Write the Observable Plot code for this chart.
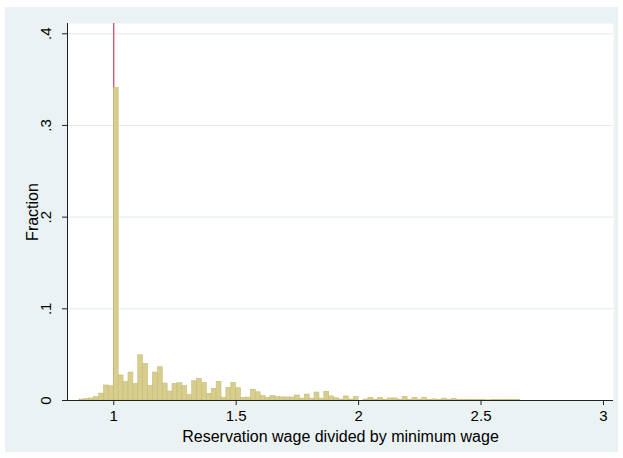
<!DOCTYPE html>
<html>
<head>
<meta charset="utf-8">
<script src="https://cdn.jsdelivr.net/npm/d3@7"></script>
<script src="https://cdn.jsdelivr.net/npm/@observablehq/plot@0.6"></script>
<style>
  html, body { margin: 0; padding: 0; background: #fff; }
  #chart { position: absolute; left: 5px; top: 7px; }
</style>
</head>
<body>
<div id="chart"></div>
<script>
// Histogram of reservation wage / minimum wage, bins of width 0.02 starting at 0.86
const binStart = 0.86;
const binWidth = 0.02;
const fractions = [
  0.0010, 0.0015, 0.0022, 0.0036, 0.0075, 0.0164, 0.0155,          // 0.86 – 0.98
  0.3410,                                                          // 1.00
  0.0273, 0.0200, 0.0305, 0.0180, 0.0494, 0.0400, 0.0160, 0.0305, 0.0363, 0.0185, // 1.02 – 1.20
  0.0098, 0.0180, 0.0189, 0.0160, 0.0060, 0.0210, 0.0237, 0.0190, 0.0073, 0.0128, // 1.22 – 1.40
  0.0204, 0.0030, 0.0139, 0.0193, 0.0134, 0.0030, 0.0032, 0.0117, 0.0090, 0.0047, // 1.42 – 1.60
  0.0030, 0.0050, 0.0036, 0.0034, 0.0033, 0.0033, 0.0055, 0.0020, 0.0065, 0.0020, // 1.62 – 1.80
  0.0087, 0.0020, 0.0095, 0.0045, 0.0025, 0.0010, 0.0044, 0.0010, 0.0038, 0.0000, // 1.82 – 2.00
  0.0010, 0.0030, 0.0010, 0.0027, 0.0008, 0.0023, 0.0023, 0.0008, 0.0040, 0.0008, // 2.02 – 2.20
  0.0030, 0.0010, 0.0030, 0.0008, 0.0012, 0.0006, 0.0020, 0.0006, 0.0018, 0.0005, // 2.22 – 2.40
  0.0005, 0.0006, 0.0004, 0.0004, 0.0004, 0.0003, 0.0004, 0.0005, 0.0006, 0.0005, // 2.42 – 2.60
  0.0005, 0.0004                                                   // 2.62 – 2.64
];
const xTicks = [1, 1.5, 2, 2.5, 3];
const yTicks = [0, 0.1, 0.2, 0.3, 0.4];
const refLine = [1];
const xDomain = [0.811, 3.041];
const yDomain = [0, 0.4112];
const xTitle = "Reservation wage divided by minimum wage";
const yTitle = "Fraction";

const bins = fractions
  .map((f, i) => ({x1: binStart + i * binWidth, x2: binStart + (i + 1) * binWidth, f}))
  .filter(d => d.f > 0);

const font = "'Liberation Sans', Arial, Helvetica, sans-serif";

const chart = Plot.plot({
  width: 613,
  height: 445,
  marginLeft: 62,
  marginRight: 5,
  marginTop: 16,
  marginBottom: 52,
  style: {background: "#EAF2F3", fontFamily: font, color: "#000", overflow: "visible"},
  x: {domain: xDomain},
  y: {domain: yDomain},
  marks: [
    Plot.frame({fill: "#fff", stroke: "none"}),
    Plot.ruleY(yTicks.filter(d => d > 0), {stroke: "#e2eaed", strokeWidth: 1}),
    Plot.ruleX(refLine, {stroke: "#c8193f", strokeWidth: 1}),
    Plot.rectY(bins, {x1: "x1", x2: "x2", y: "f", fill: "#d7ce8d", stroke: "#c6bc79", strokeWidth: 0.6}),
    Plot.ruleX([xDomain[0]], {stroke: "#222"}),
    Plot.ruleY([0], {stroke: "#222"}),
    Plot.axisX({ticks: xTicks, tickSize: 5, tickPadding: 5, fontSize: 15, stroke: "#222",
                tickFormat: d => String(d), label: null}),
    Plot.axisY({ticks: yTicks, tickSize: 5, tickPadding: 12, tickRotate: -90, fontSize: 15, stroke: "#222",
                tickFormat: d => d === 0 ? "0" : String(d).replace(/^0/, ""), label: null}),
    Plot.text([xTitle], {frameAnchor: "bottom", dy: 36, lineAnchor: "middle", textAnchor: "middle",
                         fontSize: 16, text: d => d, fill: "#000"}),
    Plot.text([yTitle], {frameAnchor: "left", dx: -35, rotate: -90, lineAnchor: "middle", textAnchor: "middle",
                         fontSize: 16, text: d => d, fill: "#000"})
  ]
});
document.getElementById("chart").appendChild(chart);
</script>
</body>
</html>
